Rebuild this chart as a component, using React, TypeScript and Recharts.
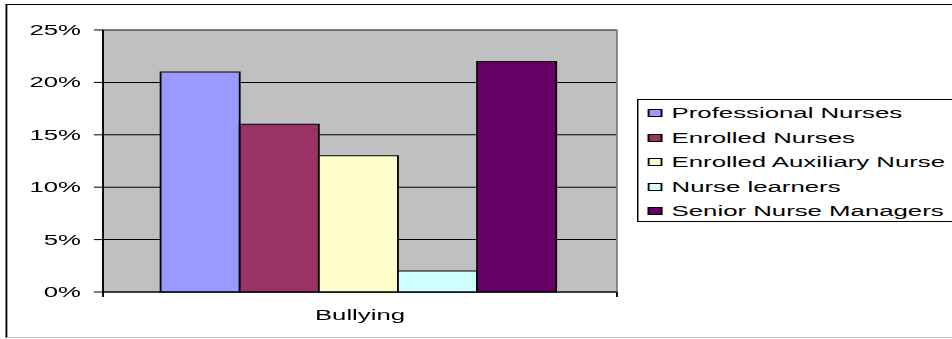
import { BarChart, Bar, XAxis, YAxis, CartesianGrid, Legend, ReferenceArea } from 'recharts';

// values (percent)
const categories = ['Bullying'];
const seriesNames = [
  'Professional Nurses',
  'Enrolled Nurses',
  'Enrolled Auxiliary Nurse',
  'Nurse learners',
  'Senior Nurse Managers',
];
const seriesValues = [[21], [16], [13], [2], [22]];
const seriesColors = ['#9999FF', '#993366', '#FFFFCC', '#CCFFFF', '#660066'];
const yTicks = [0, 5, 10, 15, 20, 25];

const data = categories.map((name, i) => {
  const row: Record<string, string | number> = { name };
  seriesNames.forEach((s, j) => {
    row[s] = seriesValues[j][i];
  });
  return row;
});

// the reference is a horizontally stretched export, so draw narrow and stretch
const STRETCH = 1.84;
const W = 540;
const H = 339;
const FONT = "'Liberation Sans', Arial, sans-serif";

function BandTick(props: any) {
  const { x, y, width, payload } = props;
  const half = width / 2;
  return (
    <g>
      <line x1={x - half} x2={x - half} y1={y} y2={y + 5} stroke="#000" />
      <line x1={x + half} x2={x + half} y1={y} y2={y + 5} stroke="#000" />
      <text x={x} y={y + 18} dy="0.71em" textAnchor="middle" fontSize={14} fontFamily={FONT} fill="#000">
        {payload.value}
      </text>
    </g>
  );
}

function LegendBox(props: any) {
  const items = [...(props.payload || [])].sort(
    (a: any, b: any) => seriesNames.indexOf(a.value) - seriesNames.indexOf(b.value)
  );
  return (
    <div
      style={{
        border: '1px solid #000',
        background: '#fff',
        height: 123,
        boxSizing: 'border-box',
        paddingTop: 1,
        paddingLeft: 5,
        fontFamily: FONT,
        fontSize: 14,
        color: '#000',
      }}
    >
      {items.map((p: any) => (
        <div key={p.value} style={{ display: 'flex', alignItems: 'center', height: 24.5, whiteSpace: 'nowrap' }}>
          <span
            style={{
              display: 'inline-block',
              width: 8,
              height: 8,
              boxSizing: 'border-box',
              border: '1px solid #000',
              background: p.color,
              marginRight: 5,
            }}
          />
          <span>{p.value}</span>
        </div>
      ))}
    </div>
  );
}

export default function App() {
  return (
    <div style={{ position: 'absolute', left: 0, top: 0, width: 952, height: H, overflow: 'hidden', background: '#fff' }}>
      <div
        style={{
          position: 'absolute',
          left: 0,
          top: 0,
          width: W,
          height: H,
          transform: `scaleX(${STRETCH})`,
          transformOrigin: '0 0',
        }}
      >
        <div
          style={{
            position: 'absolute',
            left: 2.5,
            top: 4,
            width: 600,
            height: 334,
            boxSizing: 'border-box',
            border: '1px solid #000',
            borderBottomColor: '#c0c0c0',
          }}
        />
        <div style={{ position: 'absolute', left: 0, top: 0 }}>
          <BarChart
            width={W}
            height={H}
            data={data}
            margin={{ top: 30, right: 204.7, bottom: 0, left: 0 }}
            barCategoryGap="11.2%"
            barGap={0}
          >
            <CartesianGrid vertical={false} stroke="#000" fill="#C0C0C0" />
            <ReferenceArea y1={0} y2={25} fill="none" stroke="#808080" ifOverflow="visible" />
            <XAxis
              dataKey="name"
              height={47}
              tickLine={false}
              tickSize={0}
              tickMargin={0}
              axisLine={{ stroke: '#000' }}
              tick={<BandTick />}
            />
            <YAxis
              width={56}
              domain={[0, 25]}
              ticks={yTicks}
              tickFormatter={(v) => `${v}%`}
              tickSize={5}
              tickMargin={7}
              axisLine={{ stroke: '#000' }}
              tickLine={{ stroke: '#000' }}
              tick={{ fill: '#000', fontSize: 14, fontFamily: FONT }}
            />
            <Legend
              layout="vertical"
              align="center"
              verticalAlign="middle"
              wrapperStyle={{ left: 346, top: 99, width: 176 }}
              content={<LegendBox />}
            />
            {seriesNames.map((s, j) => (
              <Bar key={s} dataKey={s} fill={seriesColors[j]} stroke="#000" strokeWidth={1} isAnimationActive={false} />
            ))}
          </BarChart>
        </div>
      </div>
    </div>
  );
}
